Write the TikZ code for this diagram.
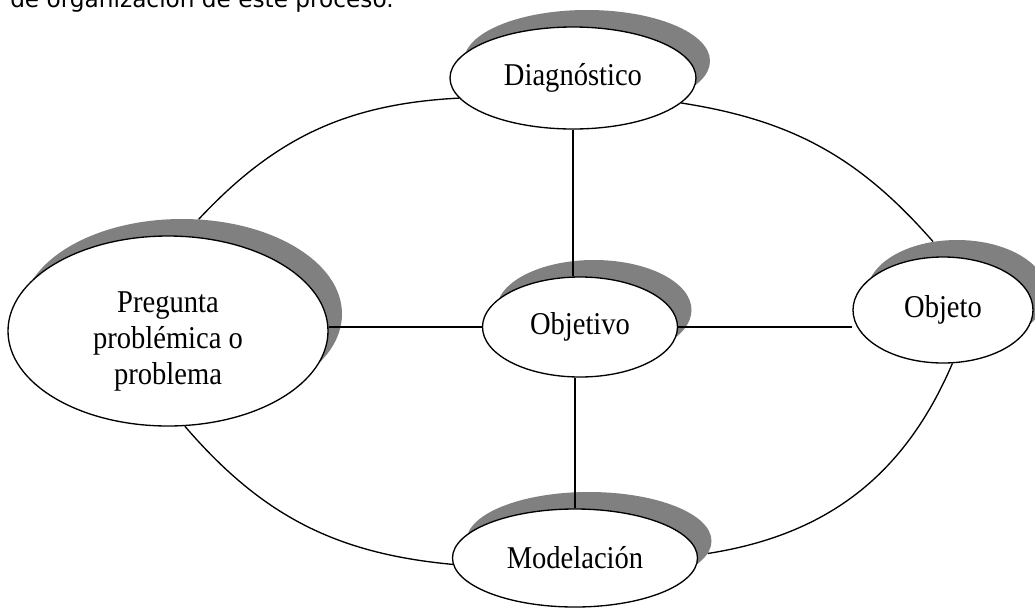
\documentclass[tikz,border=0pt]{standalone}
\usepackage{fontspec}
\setmainfont{Liberation Serif}[FakeStretch=0.9]
\newfontfamily\introfont{DejaVu Sans}
\usepackage{tikz}
\usetikzlibrary{shapes.geometric, calc, backgrounds}
\tikzstyle{bubble} = [ellipse, draw=black, line width=1pt, fill=white, inner sep=0pt, align=center, font=\fontsize{23.8}{27}\selectfont]
\tikzstyle{bubbleshadow} = [ellipse, fill=black!50, inner sep=0pt]
\tikzstyle{link} = [line width=1pt]

\begin{document}
\begin{tikzpicture}[x=0.75pt, y=-0.75pt]
    \useasboundingbox (0,0) rectangle (1035,608);
    % Cut-off line of text above the figure
    \node[anchor=base west, inner sep=0pt, font=\introfont\fontsize{17.4}{20}\selectfont] (intro) at (10,7) {de organización de este proceso.};

    % Ellipses
    \node[bubble, minimum width=184.5pt, minimum height=76.5pt] (diag) at (573,78) {Diagnóstico};
    \node[bubble, minimum width=240pt, minimum height=142.5pt] (preg) at (168,331) {\rule{0pt}{31pt}Pregunta\\problémica o\\problema};
    \node[bubble, minimum width=146.25pt, minimum height=75pt] (objt) at (580,327) {Objetivo};
    \node[bubble, minimum width=135pt, minimum height=79.5pt] (objeto) at (943,310) {Objeto};
    \node[bubble, minimum width=183.75pt, minimum height=73.5pt] (model) at (575,558) {Modelación};

    \begin{scope}[on background layer]
        % Shadows
        \node[bubbleshadow, minimum width=184.5pt, minimum height=76.5pt] (diagsh) at ($(diag)+(14,-17)$) {};
        \node[bubbleshadow, minimum width=240pt, minimum height=142.5pt] (pregsh) at ($(preg)+(14,-17)$) {};
        \node[bubbleshadow, minimum width=146.25pt, minimum height=75pt] (objtsh) at ($(objt)+(14,-17)$) {};
        \node[bubbleshadow, minimum width=135pt, minimum height=79.5pt] (objetosh) at ($(objeto)+(14,-17)$) {};
        \node[bubbleshadow, minimum width=183.75pt, minimum height=73.5pt] (modelsh) at ($(model)+(14,-17)$) {};

        % Outer ring
        \draw[link] (diag.190) to[bend right=22] (pregsh.80);
        \draw[link] (diag.347) to[bend left=20] (objetosh.115);
        \draw[link] (objeto.280) to[bend left=29] (modelsh.354);
        \draw[link] (preg.280) to[bend right=22] (model.183);
    \end{scope}

    % Spokes
    \draw[link] (diag.south) -- (diag.south |- objt.north);
    \draw[link] (objt.west) -- (preg.east |- objt.west);
    \draw[link] (objt.east) -- (objeto.west |- objt.east);
    \draw[link] (model.north) -- (model.north |- objt.south);
\end{tikzpicture}
\end{document}
